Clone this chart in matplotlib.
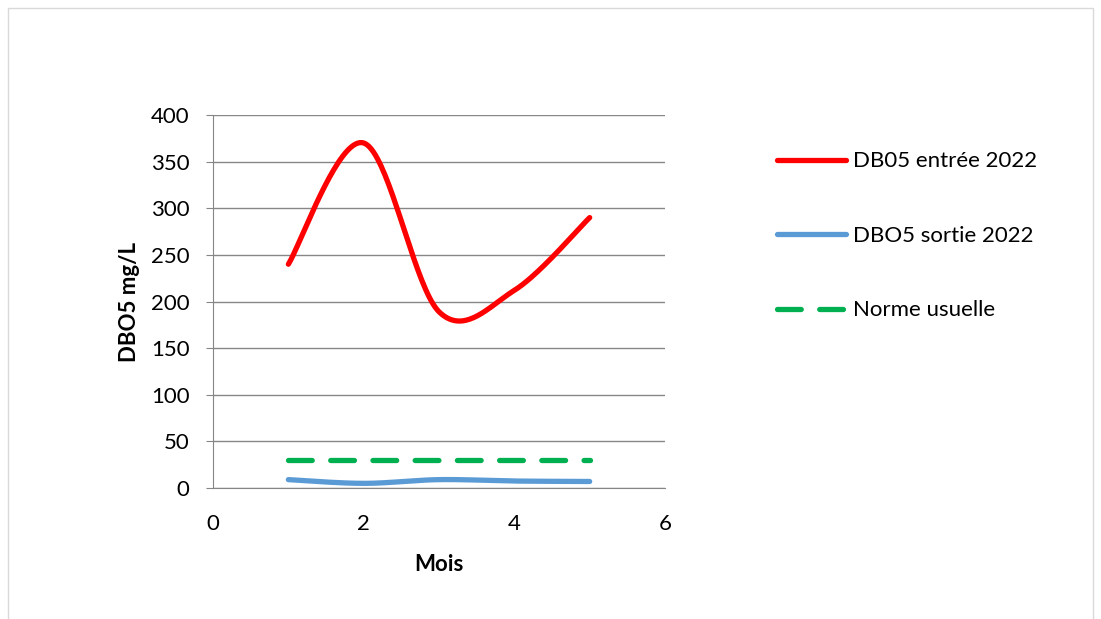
import matplotlib.pyplot as plt
from matplotlib.patches import Rectangle
import numpy as np

mois = [1, 2, 3, 4, 5]
dbo5_entree = [240, 370, 189, 212, 290]
dbo5_sortie = [9, 5, 9, 7.5, 7]
norme = [30, 30, 30, 30, 30]

plt.rcParams['font.family'] = ['Lato', 'DejaVu Sans']


def smooth(x, y, n=40):
    # bezier smoothing like excel (catmull-rom control points)
    x = np.asarray(x, float)
    y = np.asarray(y, float)
    px = np.concatenate([[x[0]], x, [x[-1]]])
    py = np.concatenate([[y[0]], y, [y[-1]]])
    xs, ys = [], []
    for i in range(1, len(px) - 2):
        p0 = np.array([px[i], py[i]])
        p3 = np.array([px[i + 1], py[i + 1]])
        p1 = p0 + (np.array([px[i + 1], py[i + 1]]) - np.array([px[i - 1], py[i - 1]])) / 6
        p2 = p3 - (np.array([px[i + 2], py[i + 2]]) - np.array([px[i], py[i]])) / 6
        t = np.linspace(0, 1, n)[:, None]
        b = (1 - t)**3 * p0 + 3 * (1 - t)**2 * t * p1 + 3 * (1 - t) * t**2 * p2 + t**3 * p3
        xs.extend(b[:, 0])
        ys.extend(b[:, 1])
    return xs, ys


fig = plt.figure(figsize=(11.01, 6.19), dpi=100)
fig.patches.append(Rectangle((0.007, -0.01), 0.986, 0.997, transform=fig.transFigure,
                             fill=False, edgecolor='#d9d9d9', linewidth=1))
ax = fig.add_axes([0.1935, 0.2116, 0.4105, 0.6026])

xs, ys = smooth(mois, dbo5_entree)
ax.plot(xs, ys, color='#ff0000', linewidth=3.8, solid_capstyle='round', label='DB05 entrée 2022')
xs, ys = smooth(mois, dbo5_sortie)
ax.plot(xs, ys, color='#5b9bd5', linewidth=3.8, solid_capstyle='round', label='DBO5 sortie 2022')
ax.plot(mois, norme, color='#00b050', linewidth=3.8, dashes=(4.5, 3.5),
        dash_capstyle='round', label='Norme usuelle')

ax.set_xlim(0, 6)
ax.set_ylim(0, 400)
ax.set_xticks(range(0, 7, 2))
ax.set_yticks(range(0, 401, 50))
ax.grid(axis='y', color='#868686', linewidth=1)
ax.set_axisbelow(True)
for s in ['top', 'right']:
    ax.spines[s].set_visible(False)
for s in ['left', 'bottom']:
    ax.spines[s].set_color('#868686')
ax.tick_params(axis='both', labelsize=16, colors='#868686', labelcolor='black')
ax.tick_params(axis='y', length=5, direction='out', pad=12)
ax.tick_params(axis='x', length=0, pad=19)

ax.set_xlabel('Mois', fontsize=16, fontweight='bold', labelpad=14)
ax.set_ylabel('DBO5 mg/L', fontsize=16, fontweight='bold', labelpad=8)

fig.legend(loc='center left', bbox_to_anchor=(0.688, 0.619), frameon=False,
           fontsize=16, handlelength=3.1, labelspacing=2.45, handletextpad=0.3)

fig.savefig('out.png', dpi=100)
